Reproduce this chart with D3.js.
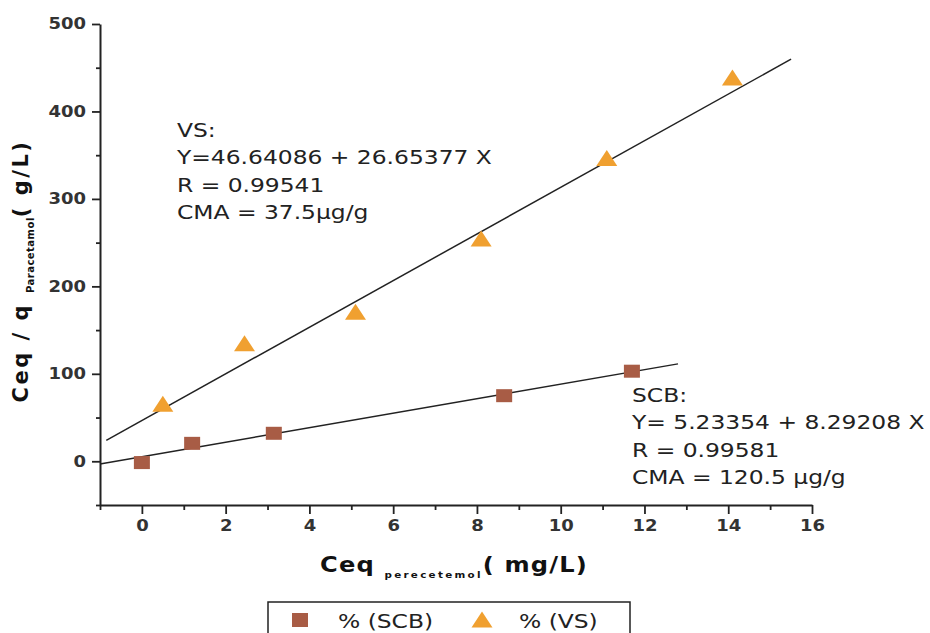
<!DOCTYPE html>
<html>
<head>
<meta charset="utf-8">
<script src="https://cdn.jsdelivr.net/npm/d3@7"></script>
<style>
  body { margin: 0; background: #fff; }
  text { font-family: "DejaVu Sans", Verdana, sans-serif; }
</style>
</head>
<body>
<div id="chart"></div>
<script>
// data
const scbX = [0, 1.2, 3.15, 8.65, 11.7];
const scbY = [-1.5, 20.5, 32, 75, 103];
const vsX = [0.5, 2.45, 5.1, 8.1, 11.1, 14.1];
const vsY = [63, 132, 168, 252, 344, 436];

// fitted lines (intercept, slope) and the x-range they are drawn over
const scbFit = [5.23354, 8.29208];
const vsFit = [46.64086, 26.65377];
const scbFitRange = [-1, 12.8];
const vsFitRange = [-0.85, 15.5];

const xMajor = [0, 2, 4, 6, 8, 10, 12, 14, 16];
const xMinor = [-1, 1, 3, 5, 7, 9, 11, 13, 15];
const yMajor = [0, 100, 200, 300, 400, 500];
const yMinor = [-50, 50, 150, 250, 350, 450];

const vsLabel = ["VS:", "Y=46.64086 + 26.65377 X", "R = 0.99541", "CMA = 37.5\u00b5g/g"];
const scbLabel = ["SCB:", "Y= 5.23354 + 8.29208 X", "R = 0.99581", "CMA = 120.5 \u00b5g/g"];

const width = 930, height = 633;
const sx = 1.2; // the picture is stretched sideways

const svg = d3.select("#chart").append("svg")
    .attr("width", width)
    .attr("height", height);

const x = d3.scaleLinear().domain([-1, 16]).range([100, 812]);
const y = d3.scaleLinear().domain([-50, 500]).range([505, 24]);

// axes
const xAxis = svg.append("g").attr("transform", "translate(0,505)")
    .call(d3.axisBottom(x).tickValues(xMajor).tickSize(9).tickSizeOuter(0).tickPadding(6));
svg.append("g").attr("transform", "translate(0,505)")
    .call(d3.axisBottom(x).tickValues(xMinor).tickSize(5).tickSizeOuter(0).tickFormat(""))
    .select(".domain").remove();

const yAxis = svg.append("g").attr("transform", "translate(100,0)")
    .call(d3.axisLeft(y).tickValues(yMajor).tickSize(8).tickSizeOuter(0).tickPadding(6));
svg.append("g").attr("transform", "translate(100,0)")
    .call(d3.axisLeft(y).tickValues(yMinor).tickSize(4).tickSizeOuter(0).tickFormat(""))
    .select(".domain").remove();

svg.selectAll(".domain").attr("stroke", "#222").attr("stroke-width", 2);
svg.selectAll(".tick line").attr("stroke", "#222").attr("stroke-width", 1.8);
svg.selectAll(".tick text")
    .attr("fill", "#333")
    .attr("font-size", 15)
    .attr("font-weight", "bold")
    .attr("font-family", "DejaVu Sans");

// stretch tick labels sideways around their anchor
xAxis.selectAll(".tick text").attr("transform", function() {
  const yy = +d3.select(this).attr("y");
  return `translate(0,${yy}) scale(${sx},1) translate(0,${-yy})`;
});
yAxis.selectAll(".tick text").attr("transform", function() {
  const xx = +d3.select(this).attr("x");
  return `translate(${xx},0) scale(${sx},1) translate(${-xx},0)`;
});

// fitted lines
const fitLine = (fit, range) => range.map(v => [x(v), y(fit[0] + fit[1] * v)]);
svg.append("path")
    .attr("d", d3.line()(fitLine(vsFit, vsFitRange)))
    .attr("stroke", "#222").attr("stroke-width", 1.5).attr("fill", "none");
svg.append("path")
    .attr("d", d3.line()(fitLine(scbFit, scbFitRange)))
    .attr("stroke", "#222").attr("stroke-width", 1.5).attr("fill", "none");

// markers
const squareColor = "#a85c45", triColor = "#f0a030";
const tri = "M0,-10.5 L10.5,5.5 L-10.5,5.5 Z";

svg.selectAll(".scb")
    .data(d3.zip(scbX, scbY))
    .enter().append("rect")
    .attr("class", "scb")
    .attr("x", d => x(d[0]) - 8)
    .attr("y", d => y(d[1]) - 6.5)
    .attr("width", 16).attr("height", 13)
    .attr("fill", squareColor);

svg.selectAll(".vs")
    .data(d3.zip(vsX, vsY))
    .enter().append("path")
    .attr("class", "vs")
    .attr("d", tri)
    .attr("transform", d => `translate(${x(d[0])},${y(d[1])})`)
    .attr("fill", triColor);

// fit annotations
function block(lines, px, py) {
  const g = svg.append("g").attr("transform", `translate(${px},${py}) scale(${sx},1)`);
  g.selectAll("text").data(lines).enter().append("text")
      .attr("x", 0)
      .attr("y", (d, i) => i * 27.3)
      .attr("font-size", 19.5)
      .attr("fill", "#222")
      .text(d => d);
}
block(vsLabel, 177, 137);
block(scbLabel, 632, 402);

// x title
const xt = svg.append("g").attr("transform", `translate(454,572) scale(1.15,1)`);
const xtText = xt.append("text")
    .attr("text-anchor", "middle")
    .attr("font-weight", "bold")
    .attr("font-size", 21)
    .attr("fill", "#111");
xtText.append("tspan").attr("letter-spacing", 1).text("Ceq ");
xtText.append("tspan").attr("font-size", 9).attr("dy", 6).attr("letter-spacing", 2).text("perecetemol");
xtText.append("tspan").attr("dy", -6).attr("letter-spacing", 1).text("( mg/L)");

// y title
const yt = svg.append("g").attr("transform", `translate(28,271) rotate(-90)`);
const ytText = yt.append("text")
    .attr("text-anchor", "middle")
    .attr("font-weight", "bold")
    .attr("font-size", 21)
    .attr("fill", "#111");
ytText.append("tspan").attr("letter-spacing", 2.5).text("Ceq / q ");
ytText.append("tspan").attr("font-size", 10).attr("dy", 6).attr("letter-spacing", 0.5).text("Paracetamol");
ytText.append("tspan").attr("dy", -6).attr("letter-spacing", 2.5).text("( g/L)");

// legend
const lg = svg.append("g");
lg.append("rect")
    .attr("x", 268).attr("y", 602)
    .attr("width", 362).attr("height", 50)
    .attr("fill", "none").attr("stroke", "#222").attr("stroke-width", 1.5);
lg.append("rect")
    .attr("x", 292).attr("y", 613).attr("width", 16).attr("height", 14)
    .attr("fill", squareColor);
lg.append("path")
    .attr("d", tri)
    .attr("transform", "translate(482,622)")
    .attr("fill", triColor);
lg.append("text")
    .attr("transform", `translate(338,628) scale(${sx},1)`)
    .attr("font-size", 19.5).attr("fill", "#222")
    .text("% (SCB)");
lg.append("text")
    .attr("transform", `translate(519,628) scale(${sx},1)`)
    .attr("font-size", 19.5).attr("fill", "#222")
    .text("% (VS)");
</script>
</body>
</html>
